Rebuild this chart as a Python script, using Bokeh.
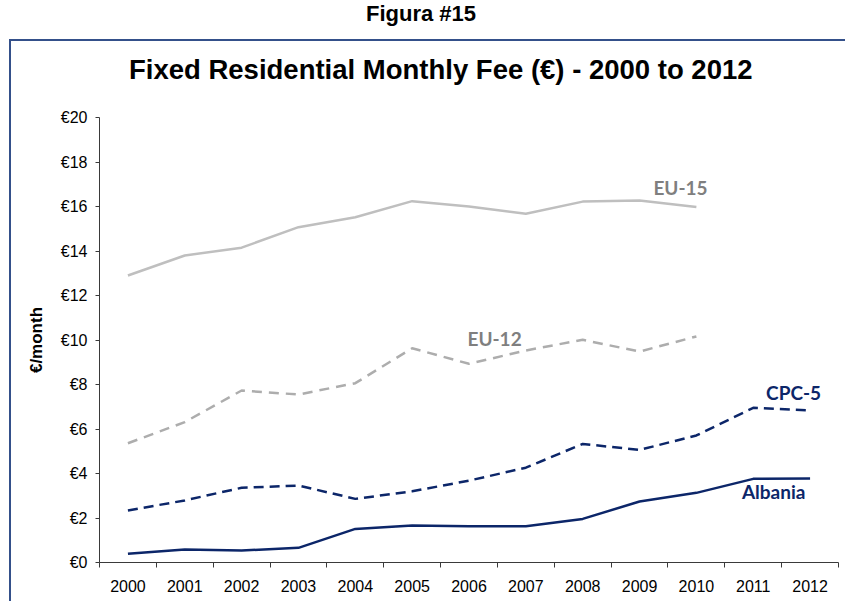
from bokeh.plotting import figure
from bokeh.models import Div, Range1d, FixedTicker, PrintfTickFormatter, Label
from bokeh.layouts import column
from bokeh.embed import file_html
from bokeh.resources import INLINE

years = [2000, 2001, 2002, 2003, 2004, 2005, 2006, 2007, 2008, 2009, 2010, 2011, 2012]
eu15 = [12.9, 13.8, 14.15, 15.07, 15.52, 16.24, 16.0, 15.67, 16.22, 16.27, 15.98]
eu12 = [5.36, 6.31, 7.73, 7.55, 8.06, 9.63, 8.93, 9.53, 10.01, 9.48, 10.16]
cpc5 = [2.34, 2.79, 3.36, 3.46, 2.86, 3.2, 3.68, 4.26, 5.33, 5.06, 5.71, 6.95, 6.83]
albania = [0.39, 0.58, 0.54, 0.66, 1.51, 1.66, 1.63, 1.63, 1.96, 2.74, 3.13, 3.76, 3.78]
y_ticks = [0, 2, 4, 6, 8, 10, 12, 14, 16, 18, 20]

NAVY = "#0C2669"
GRAY_SOLID = "#BFBFBF"
GRAY_DASH = "#ADADAD"
LABEL_GRAY = "#7F7F7F"
AXIS = "#3A3A3A"
FONT = "Liberation Sans"
CSS_FONT = "'Liberation Sans',Arial,sans-serif"

header = Div(
    text=('<div style="font-family:%s;font-weight:bold;font-size:22px;line-height:18px;'
          'text-align:center;width:814px;color:#000;">Figura #15</div>' % CSS_FONT),
    width=828,
    height=29,
)

title = Div(
    text=('<div style="font-family:%s;font-weight:bold;font-size:27.5px;line-height:48px;'
          'white-space:nowrap;padding-left:113px;color:#000;">'
          'Fixed Residential Monthly Fee (€) - 2000 to 2012</div>' % CSS_FONT),
    width=828,
    height=48,
)

p = figure(
    width=828,
    height=502,
    output_backend="svg",
    toolbar_location=None,
    x_range=Range1d(1999.5, 2012.5),
    y_range=Range1d(0, 20),
    min_border_left=88,
    min_border_right=1,
    min_border_top=18,
    min_border_bottom=39,
)

p.outline_line_color = None
p.xgrid.grid_line_color = None
p.ygrid.grid_line_color = None
p.background_fill_color = "white"
p.border_fill_color = "white"

# y axis
p.yaxis.ticker = FixedTicker(ticks=y_ticks)
p.yaxis.formatter = PrintfTickFormatter(format="€%d")
p.yaxis.axis_line_color = AXIS
p.yaxis.major_tick_line_color = AXIS
p.yaxis.major_tick_out = 4
p.yaxis.major_tick_in = 0
p.yaxis.minor_tick_line_color = None
p.yaxis.major_label_standoff = 8
p.yaxis.major_label_text_font = FONT
p.yaxis.major_label_text_font_size = "16px"
p.yaxis.major_label_text_color = "#000000"
p.yaxis.axis_label = "€/month"
p.yaxis.axis_label_text_font = FONT
p.yaxis.axis_label_text_font_size = "17px"
p.yaxis.axis_label_text_font_style = "bold"
p.yaxis.axis_label_text_color = "#000000"
p.yaxis.axis_label_standoff = 12

# x axis: labels at category centres, ticks at category boundaries
bounds = [y - 0.5 for y in years] + [years[-1] + 0.5]
p.xaxis.ticker = FixedTicker(ticks=years, minor_ticks=bounds)
p.xaxis.major_label_overrides = {y: str(y) for y in years}
p.xaxis.axis_line_color = AXIS
p.xaxis.major_tick_line_color = None
p.xaxis.major_tick_out = 0
p.xaxis.major_tick_in = 0
p.xaxis.minor_tick_line_color = AXIS
p.xaxis.minor_tick_out = 5
p.xaxis.minor_tick_in = 0
p.xaxis.major_label_standoff = 12
p.xaxis.major_label_text_font = FONT
p.xaxis.major_label_text_font_size = "16px"
p.xaxis.major_label_text_color = "#000000"

p.line(years[:len(eu15)], eu15, line_color=GRAY_SOLID, line_width=2.5)
p.line(years[:len(eu12)], eu12, line_color=GRAY_DASH, line_width=2.5, line_dash="10 7")
p.line(years, cpc5, line_color=NAVY, line_width=2.5, line_dash="10 6")
p.line(years, albania, line_color=NAVY, line_width=2.5)

label_style = dict(text_font="Lato", text_font_size="19px", text_font_style="bold",
                   text_align="center", text_baseline="middle")
p.add_layout(Label(x=2009.72, y=16.85, text="EU-15", text_color=LABEL_GRAY, **label_style))
p.add_layout(Label(x=2006.45, y=10.07, text="EU-12", text_color=LABEL_GRAY, **label_style))
p.add_layout(Label(x=2011.71, y=7.64, text="CPC-5", text_color=NAVY, **label_style))
p.add_layout(Label(x=2011.36, y=3.19, text="Albania", text_color=NAVY, **label_style))

boxed = column(title, p, spacing=0,
               styles={"border-top": "2px solid #34508A", "border-left": "2px solid #34508A"})
layout = column(header, boxed, spacing=0, margin=(0, 0, 0, 9))
open("out.html", "w").write(file_html(layout, INLINE))
